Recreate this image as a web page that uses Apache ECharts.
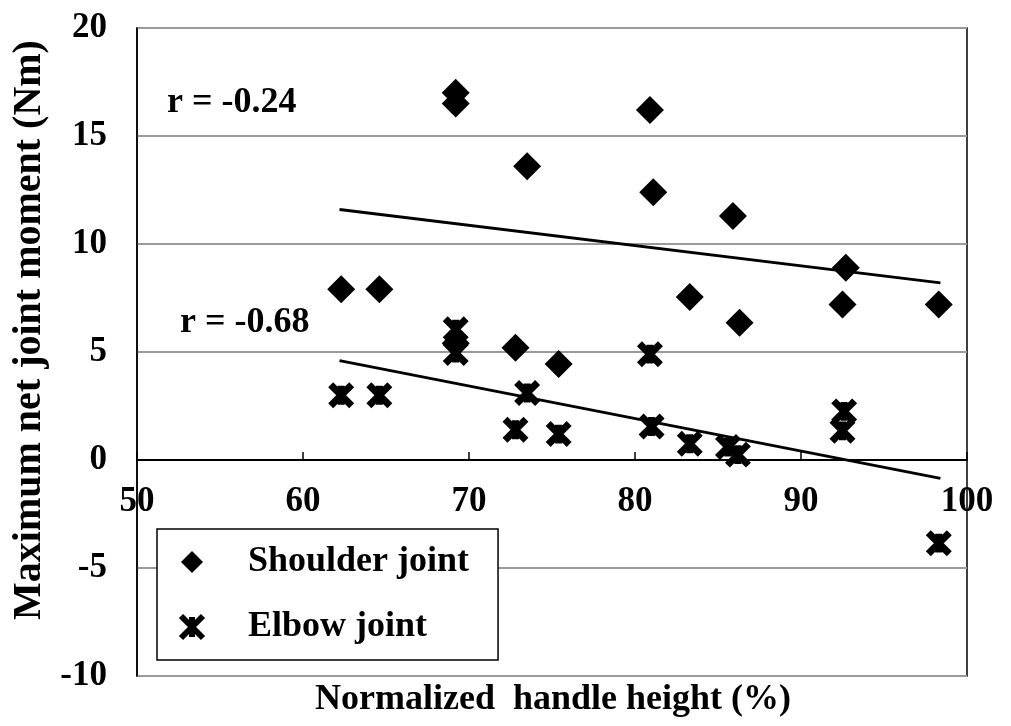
<!DOCTYPE html>
<html>
<head>
<meta charset="utf-8">
<script src="https://cdn.jsdelivr.net/npm/echarts@6/dist/echarts.min.js"></script>
<style>
html,body{margin:0;padding:0;background:#fff;}
#chart{width:1011px;height:726px;}
</style>
</head>
<body>
<div id="chart"></div>
<script>
var shoulderX = [62.3, 64.6, 69.2, 69.2, 69.2, 72.8, 73.5, 75.4, 80.9, 81.1, 83.3, 85.9, 86.3, 92.5, 92.7, 98.3];
var shoulderY = [7.9, 7.9, 17.0, 16.5, 5.4, 5.2, 13.6, 4.45, 16.2, 12.4, 7.55, 11.3, 6.35, 7.2, 8.9, 7.2];
var elbowX = [62.3, 64.6, 69.2, 69.2, 72.8, 73.5, 75.4, 80.9, 81.0, 83.3, 85.6, 86.2, 92.5, 92.6, 98.3];
var elbowY = [3.0, 3.0, 6.05, 4.95, 1.4, 3.1, 1.2, 4.9, 1.55, 0.75, 0.6, 0.25, 1.35, 2.25, -3.85];
var shoulderTrendX = [62.2, 98.4];
var shoulderTrendY = [11.6, 8.2];
var elbowTrendX = [62.2, 98.4];
var elbowTrendY = [4.6, -0.85];
var rLabels = ['r = -0.24', 'r = -0.68'];

function zip(xs, ys){ return xs.map(function(x,i){ return [x, ys[i]]; }); }

var FONT = 'Liberation Serif';
var crossPath = 'path://M0,0L10,10M10,0L0,10M5,0.5L5,9.5';

var chart = echarts.init(document.getElementById('chart'));
var gridTop = 28, gridBottomPx = 676;
var yMin = -10, yMax = 20;
var zeroOffset = (gridBottomPx - gridTop) * (0 - yMin) / (yMax - yMin);

chart.setOption({
  animation: false,
  backgroundColor: '#fff',
  grid: {left: 137, right: 44, top: gridTop, bottom: 726 - gridBottomPx, show: true, borderColor: '#000', borderWidth: 1.5, backgroundColor: 'transparent'},
  xAxis: {
    type: 'value', min: 50, max: 100, interval: 10,
    position: 'bottom', offset: -zeroOffset,
    axisLine: {onZero: false, lineStyle: {color: '#000', width: 2}},
    axisTick: {show: true, inside: true, length: 8, lineStyle: {color: '#000', width: 1.5}},
    axisLabel: {margin: 24, color: '#000', fontFamily: FONT, fontWeight: 'bold', fontSize: 35},
    splitLine: {show: false}
  },
  yAxis: {
    type: 'value', min: yMin, max: yMax, interval: 5,
    axisLine: {show: true, lineStyle: {color: '#000', width: 1.5}},
    axisTick: {show: false},
    axisLabel: {margin: 30, color: '#000', fontFamily: FONT, fontWeight: 'bold', fontSize: 35},
    splitLine: {show: true, lineStyle: {color: '#999', width: 2}}
  },
  legend: {
    left: 157, top: 529, orient: 'vertical',
    backgroundColor: '#fff', borderColor: '#000', borderWidth: 1.5,
    padding: [15, 29, 15, 21], itemGap: 29,
    itemWidth: 22, itemHeight: 22,
    textStyle: {color: '#000', fontFamily: FONT, fontWeight: 'bold', fontSize: 36, padding: [0, 0, 0, 40]},
    data: [
      {name: 'Shoulder joint', icon: 'diamond', itemStyle: {color: '#000', opacity: 1}},
      {name: 'Elbow joint', icon: crossPath, itemStyle: {color: '#000', borderColor: '#000', borderWidth: 6, opacity: 1}}
    ]
  },
  graphic: [
    {type: 'text', x: 167, y: 103, style: {text: rLabels[0], fill: '#000', font: 'bold 36px "Liberation Serif"', verticalAlign: 'middle'}},
    {type: 'text', x: 180, y: 323, style: {text: rLabels[1], fill: '#000', font: 'bold 36px "Liberation Serif"', verticalAlign: 'middle'}},
    {type: 'text', x: 553, y: 700, style: {text: 'Normalized  handle height (%)', fill: '#000', font: 'bold 36px "Liberation Serif"', align: 'center', verticalAlign: 'middle'}},
    {type: 'text', x: 30, y: 330, rotation: Math.PI / 2, style: {text: 'Maximum net joint moment (Nm)', fill: '#000', font: 'bold 40px "Liberation Serif"', align: 'center', verticalAlign: 'middle'}}
  ],
  series: [
    {name: 'Shoulder trend', type: 'line', data: zip(shoulderTrendX, shoulderTrendY), symbol: 'none', lineStyle: {color: '#000', width: 3}, z: 3},
    {name: 'Elbow trend', type: 'line', data: zip(elbowTrendX, elbowTrendY), symbol: 'none', lineStyle: {color: '#000', width: 3}, z: 3},
    {name: 'Shoulder joint', type: 'scatter', data: zip(shoulderX, shoulderY), symbol: 'diamond', symbolSize: 28, itemStyle: {color: '#000', opacity: 1}, z: 4},
    {name: 'Elbow joint', type: 'scatter', data: zip(elbowX, elbowY), symbol: crossPath, symbolSize: 21, itemStyle: {color: '#000', borderColor: '#000', borderWidth: 7, opacity: 1}, z: 4}
  ]
});
</script>
</body>
</html>
